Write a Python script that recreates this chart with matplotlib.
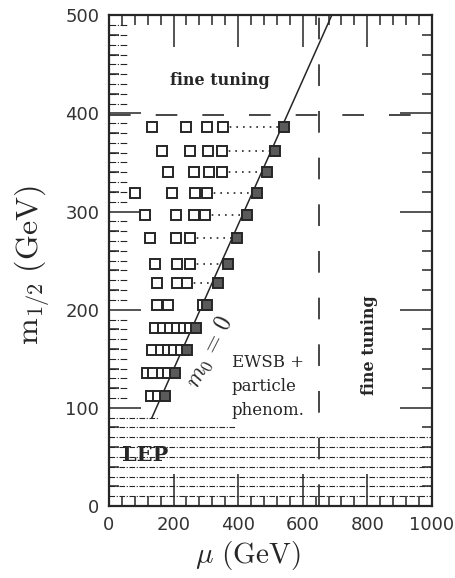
import matplotlib
matplotlib.use("Agg")
import matplotlib.pyplot as plt
import numpy as np

plt.rcParams['mathtext.fontset'] = 'cm'

# -----------------------------
# DATA
# -----------------------------
# rows of m_1/2 where points were scanned
row_m = [386, 362, 340, 319, 296, 273, 247, 227, 205, 181, 159, 135, 112]
# open squares, mu values per row
row_open_mu = [
    [133, 238, 303, 353],
    [164, 251, 307, 350],
    [183, 263, 310, 350],
    [80, 195, 266, 303],
    [111, 207, 263, 297],
    [127, 207, 251],
    [142, 210, 251],
    [148, 210, 241],
    [149, 183, 290],
    [142, 167, 189, 211, 232, 250],
    [133, 161, 183, 201, 223],
    [118, 136, 164, 183],
    [130, 152],
]
# hatched square sitting on the m0 = 0 line
row_fill_mu = [542, 514, 489, 458, 427, 396, 368, 337, 305, 268, 243, 205, 172]
# rows that have a dotted link to the hatched square
dotted_rows = 9

# m0 = 0 boundary
m0_line_mu = [133, 690]
m0_line_m = [90, 500]

# fine tuning bounds
ft_mu = 650
ft_m = 398

# LEP exclusion (dash-dot lines)
lep_levels = [10, 20, 30, 40, 50, 60, 70]
lep_partial_levels = [80, 90]
lep_partial_ends = [390, 155]
edge_levels = [m for m in range(110, 500, 10) if m % 100 != 0]
edge_len = 55

xticks = [0, 200, 400, 600, 800, 1000]
yticks = [0, 100, 200, 300, 400, 500]

ink = '#262626'

fig = plt.figure(figsize=(4.56, 5.78), dpi=100)
ax = fig.add_axes([0.239, 0.1246, 0.708, 0.849])

# LEP region
for m in lep_levels:
    ax.plot([0, 1000], [m, m], color=ink, lw=0.8, ls='-.', dashes=(5, 1.5, 1, 1.5))
for m, end in zip(lep_partial_levels, lep_partial_ends):
    ax.plot([0, end], [m, m], color=ink, lw=0.8, ls='-.', dashes=(5, 1.5, 1, 1.5))
for m in edge_levels:
    ax.plot([0, edge_len], [m, m], color=ink, lw=0.8, ls='-.', dashes=(6, 1.5, 1, 1.5))

# fine tuning dashed lines
ax.plot([ft_mu, ft_mu], [0, 500], color=ink, lw=1.2, dashes=(13, 15))
ax.plot([0, 1000], [ft_m, ft_m], color=ink, lw=1.2, dashes=(13, 15))

# m0 = 0 line
ax.plot(m0_line_mu, m0_line_m, color=ink, lw=1.1)

# dotted links
for i in range(dotted_rows):
    ax.plot([row_open_mu[i][-1], row_fill_mu[i]], [row_m[i], row_m[i]],
            color=ink, lw=1.2, ls=(0, (1, 3)))

# open squares
for m, mus in zip(row_m, row_open_mu):
    ax.plot(mus, [m] * len(mus), ls='none', marker='s', ms=6.5,
            mfc='white', mec=ink, mew=1.4)

# hatched squares
ax.plot(row_fill_mu, row_m, ls='none', marker='s', ms=6.5,
        mfc='#5a5a5a', mec=ink, mew=1.4)

# texts
ax.text(343, 434, 'fine tuning', family='DejaVu Serif', fontsize=11.5,
        ha='center', va='center', color=ink, weight='bold')
ax.text(808, 164, 'fine tuning', family='DejaVu Serif', fontsize=11.5,
        ha='center', va='center', rotation=90, color=ink, weight='bold')
ax.text(381, 122, 'EWSB +\nparticle\nphenom.', family='DejaVu Serif',
        fontsize=12, ha='left', va='center', color=ink, linespacing=1.55)
ax.text(312, 157, r'$m_0\,=\,0$', fontsize=17, rotation=63,
        ha='center', va='center', color=ink)
ax.text(40, 52, 'LEP', family='DejaVu Serif', fontsize=15, weight='bold',
        ha='left', va='center', color=ink)

ax.set_xlim(0, 1000)
ax.set_ylim(0, 500)
ax.set_xticks(xticks)
ax.set_yticks(yticks)
ax.set_xticks(np.arange(0, 1001, 40), minor=True)
ax.set_yticks(np.arange(0, 501, 20), minor=True)
ax.tick_params(which='both', direction='in', top=True, right=True,
               color=ink, width=1.1)
ax.tick_params(which='major', length=23, labelsize=13, pad=7, labelcolor='#333333')
ax.tick_params(which='minor', length=7)
for s in ax.spines.values():
    s.set_linewidth(1.6)
    s.set_color(ink)

ax.set_xlabel(r'$\mu\ \mathrm{(GeV)}$', fontsize=21, color=ink)
ax.xaxis.set_label_coords(0.43, -0.068)
ax.set_ylabel(r'$\mathrm{m}_{1/2}\ \mathrm{(GeV)}$', fontsize=23, color=ink)
ax.yaxis.set_label_coords(-0.175, 0.49)

fig.savefig('out.png', dpi=100)
